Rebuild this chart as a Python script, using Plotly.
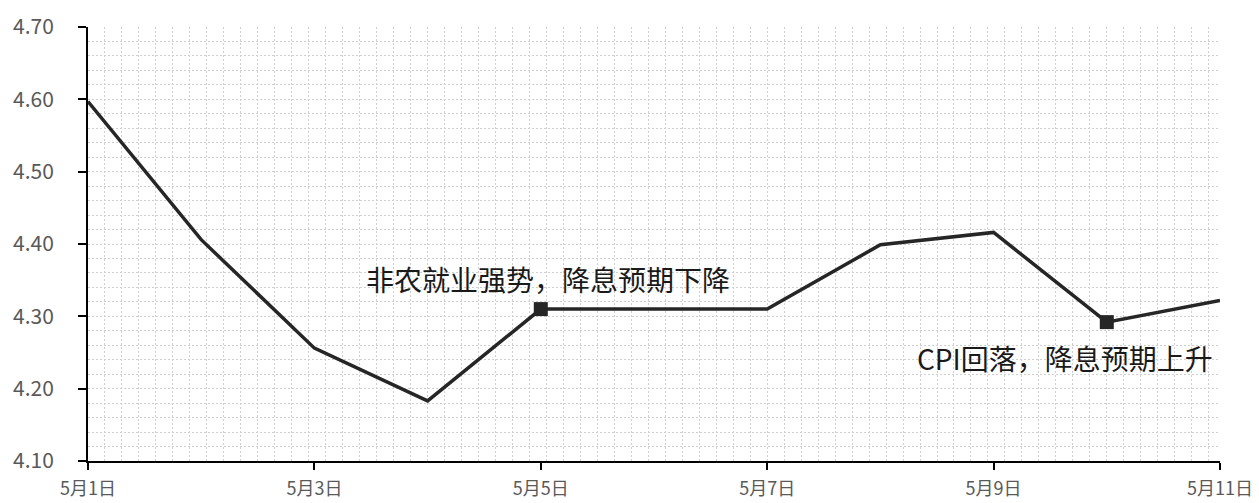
import plotly.graph_objects as go

dates = ["5月1日", "5月2日", "5月3日", "5月4日", "5月5日", "5月6日",
         "5月7日", "5月8日", "5月9日", "5月10日", "5月11日"]
values = [4.597, 4.406, 4.256, 4.183, 4.310, 4.310, 4.310, 4.399, 4.416, 4.292, 4.322]
marker_idx = [4, 9]
tick_idx = [0, 2, 4, 6, 8, 10]
note_texts = ["非农就业强势，降息预期下降", "CPI回落，降息预期上升"]
note_x = [4.06, 8.63]
note_y = [4.352, 4.242]

x = list(range(len(dates)))
font_family = "Noto Sans CJK SC"
line_color = "#262626"

fig = go.Figure()
fig.add_trace(go.Scatter(
    x=x, y=values, mode="lines",
    line=dict(color=line_color, width=3.5),
    hoverinfo="skip", showlegend=False, cliponaxis=False,
))
fig.add_trace(go.Scatter(
    x=[x[i] for i in marker_idx], y=[values[i] for i in marker_idx],
    mode="markers",
    marker=dict(symbol="square", size=14, color=line_color),
    hoverinfo="skip", showlegend=False, cliponaxis=False,
))

for t, ax_, ay_ in zip(note_texts, note_x, note_y):
    fig.add_annotation(x=ax_, y=ay_, xref="x", yref="y", text=t,
                       showarrow=False,
                       font=dict(family=font_family, size=28, color="#1a1a1a"))

grid_color = "#d0d0d0"
fig.update_xaxes(
    range=[0, 10],
    tickvals=[x[i] for i in tick_idx],
    ticktext=[dates[i] for i in tick_idx],
    ticks="outside", ticklen=7, tickwidth=2, tickcolor="#000000",
    showline=True, linecolor="#000000", linewidth=2,
    showgrid=False, zeroline=False, automargin=False,
    ticklabelstandoff=3,
    tickfont=dict(family=font_family, size=18, color="#595959"),
    minor=dict(dtick=0.15, tick0=0, showgrid=True, gridcolor=grid_color,
               gridwidth=1, griddash="2px,2px", ticks=""),
)
fig.update_yaxes(
    range=[4.10, 4.70], dtick=0.1, tickformat=".2f",
    ticks="outside", ticklen=8, tickwidth=2, tickcolor="#000000",
    showline=True, linecolor="#000000", linewidth=2,
    showgrid=True, gridcolor=grid_color, gridwidth=1, griddash="2px,2px",
    zeroline=False, automargin=False,
    ticklabelstandoff=20,
    tickfont=dict(family=font_family, size=21, color="#595959"),
    minor=dict(dtick=0.02, showgrid=True, gridcolor=grid_color,
               gridwidth=1, griddash="2px,2px", ticks=""),
)
fig.update_layout(
    width=1259, height=503,
    margin=dict(l=88, r=39, t=27, b=42),
    plot_bgcolor="#ffffff", paper_bgcolor="#ffffff",
    font=dict(family=font_family),
)
fig.write_html("out.html")
